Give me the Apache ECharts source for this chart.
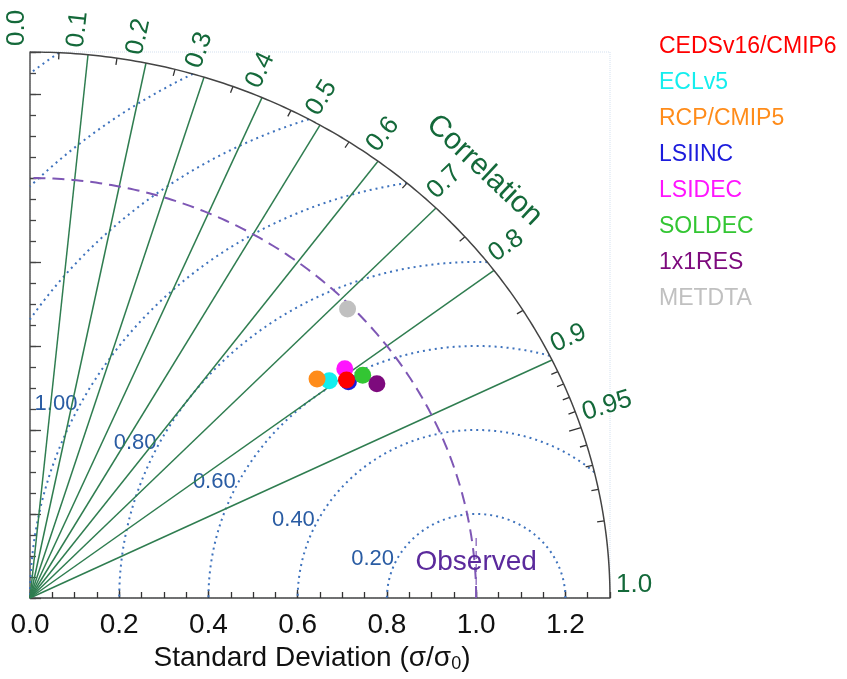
<!DOCTYPE html>
<html>
<head>
<meta charset="utf-8">
<script src="https://cdn.jsdelivr.net/npm/echarts/dist/echarts.min.js"></script>
<style>
  html, body { margin: 0; padding: 0; background: #fff; }
  #chart { width: 847px; height: 679px; }
</style>
</head>
<body>
<div id="chart"></div>
<script>
// 模型名称与颜色
const modelNames = ["CEDSv16/CMIP6", "ECLv5", "RCP/CMIP5", "LSIINC", "LSIDEC", "SOLDEC", "1x1RES", "METDTA"]
const modelColors = ["#ff0000", "#14eeee", "#ff8c1a", "#1c1cdc", "#ff14ff", "#33c633", "#7d0a7d", "#c0c0c0"]
// 标准差 (σ/σ0) 与相关系数
const stdDev = [0.879, 0.847, 0.828, 0.880, 0.892, 0.915, 0.930, 0.990]
const corrValues = [0.807, 0.792, 0.777, 0.811, 0.791, 0.815, 0.836, 0.719]

// 相关系数刻度
const corrLabelTicks = [0.0, 0.1, 0.2, 0.3, 0.4, 0.5, 0.6, 0.7, 0.8, 0.9, 0.95, 1.0]
const corrLineTicks = [0.1, 0.2, 0.3, 0.4, 0.5, 0.6, 0.7, 0.8, 0.9]
const corrMinorTicks = [0.05, 0.15, 0.25, 0.35, 0.45, 0.55, 0.65, 0.75, 0.85,
  0.91, 0.92, 0.93, 0.94, 0.95, 0.96, 0.97, 0.98, 0.99]
// 中心化均方根误差圆弧
const rmsRadii = [0.2, 0.4, 0.6, 0.8, 1.0, 1.2, 1.4, 1.6]
const rmsLabels = [0.2, 0.4, 0.6, 0.8, 1.0]
const observedStd = 1.0
const maxStd = 1.3

const fontFamily = "'Liberation Sans', Arial, Helvetica, sans-serif"
const greenText = "#14693a"

function toXY(std, c) {
  return [std * c, std * Math.sqrt(Math.max(0, 1 - c * c))]
}

// 以原点为中心的四分之一圆
function quarterArc(r) {
  const pts = []
  for (let i = 0; i <= 180; i++) {
    const t = (Math.PI / 2) * i / 180
    pts.push([r * Math.cos(t), r * Math.sin(t)])
  }
  return pts
}

// 以观测点为中心的 RMS 圆弧（裁剪到外圈内）
function rmsArc(r) {
  const xi = (maxStd * maxStd - r * r + observedStd * observedStd) / (2 * observedStd)
  let t1 = 0
  if (xi < observedStd + r) t1 = Math.acos(Math.max(-1, Math.min(1, (xi - observedStd) / r)))
  const t2 = r > observedStd ? Math.acos(-observedStd / r) : Math.PI
  const pts = []
  for (let i = 0; i <= 200; i++) {
    const t = t1 + (t2 - t1) * i / 200
    pts.push([observedStd + r * Math.cos(t), r * Math.sin(t)])
  }
  return pts
}

const chart = echarts.init(document.getElementById("chart"))

const series = []

rmsRadii.forEach(function (r) {
  series.push({
    type: "line",
    data: rmsArc(r),
    showSymbol: false,
    symbol: "none",
    silent: true,
    z: 1,
    lineStyle: { color: "#3f73bd", width: 2, type: [2, 4] }
  })
})

// 观测值圆弧
series.push({
  type: "line",
  data: quarterArc(observedStd),
  showSymbol: false,
  symbol: "none",
  silent: true,
  z: 2,
  lineStyle: { color: "#7e57b5", width: 2, type: [12, 7] }
})
series.push({
  type: "line",
  data: [[observedStd, 0], [observedStd, 0.15]],
  showSymbol: false,
  symbol: "none",
  silent: true,
  z: 2,
  lineStyle: { color: "#7e57b5", width: 1.2, type: [8, 5] }
})

// 相关系数射线
series.push({
  type: "lines",
  coordinateSystem: "cartesian2d",
  silent: true,
  z: 2,
  lineStyle: { color: "#2f7d50", width: 1.5, opacity: 1 },
  data: corrLineTicks.map(function (c) {
    return { coords: [[0, 0], toXY(maxStd, c)] }
  })
})

// 外圈
series.push({
  type: "line",
  data: quarterArc(maxStd),
  showSymbol: false,
  symbol: "none",
  silent: true,
  z: 3,
  lineStyle: { color: "#444", width: 1.5 }
})
series.push({
  type: "lines",
  coordinateSystem: "cartesian2d",
  silent: true,
  z: 3,
  lineStyle: { color: "#333", width: 1.3, opacity: 1 },
  data: corrMinorTicks.map(function (c) {
    const len = Math.abs(c - 0.95) < 1e-6 ? 0.028 : 0.016
    return { coords: [toXY(maxStd, c), toXY(maxStd - len, c)] }
  })
})

// 模型散点
modelNames.forEach(function (name, i) {
  series.push({
    name: name,
    type: "scatter",
    symbolSize: 17,
    z: name === "CEDSv16/CMIP6" ? 12 : 10,
    itemStyle: { color: modelColors[i], opacity: 1 },
    data: [toXY(stdDev[i], corrValues[i])]
  })
})

const option = {
  animation: false,
  backgroundColor: "#fff",
  textStyle: { fontFamily: fontFamily },
  grid: {
    left: 30,
    right: 237,
    top: 52,
    bottom: 81,
    show: true,
    borderColor: "#d3e0ef",
    borderWidth: 1,
    borderType: "dotted"
  },
  legend: {
    orient: "vertical",
    left: 649,
    top: 30,
    itemWidth: 0,
    itemGap: 13,
    selectedMode: false,
    textStyle: { fontSize: 23, fontFamily: fontFamily },
    data: modelNames.map(function (name, i) {
      return { name: name, icon: "none", textStyle: { color: modelColors[i] } }
    })
  },
  xAxis: [
    {
      type: "value",
      min: 0,
      max: maxStd,
      interval: 0.2,
      name: "{t|Standard Deviation (σ/σ}{s|0}{t|)}",
      nameLocation: "middle",
      nameGap: 44,
      nameTextStyle: {
        padding: [0, 16, 0, 0],
        rich: {
          t: { fontSize: 28, color: "#111", fontFamily: fontFamily },
          s: { fontSize: 18, color: "#111", fontFamily: fontFamily, verticalAlign: "bottom", padding: [13, 0, 0, 0] }
        }
      },
      axisLine: { lineStyle: { color: "#444", width: 1.5 } },
      axisTick: { inside: true, length: 8, lineStyle: { color: "#333", width: 1.3 } },
      axisLabel: {
        fontSize: 28,
        color: "#111",
        margin: 13,
        showMaxLabel: false,
        formatter: function (v) { return v.toFixed(1) }
      },
      splitLine: { show: false }
    },
    {
      type: "value",
      min: 0,
      max: maxStd,
      interval: 0.05,
      position: "bottom",
      axisLine: { show: false },
      axisTick: { inside: true, length: 6, lineStyle: { color: "#333", width: 1.3 } },
      axisLabel: { show: false },
      splitLine: { show: false }
    }
  ],
  yAxis: [
    {
      type: "value",
      min: 0,
      max: maxStd,
      interval: 0.2,
      axisLine: { lineStyle: { color: "#555", width: 1.5 } },
      axisTick: { inside: true, length: 11, lineStyle: { color: "#444", width: 1.3 } },
      axisLabel: { show: false },
      splitLine: { show: false }
    },
    {
      type: "value",
      min: 0,
      max: maxStd,
      interval: 0.05,
      position: "left",
      offset: 0,
      axisLine: { show: false },
      axisTick: { inside: true, length: 6, lineStyle: { color: "#444", width: 1.3 } },
      axisLabel: { show: false },
      splitLine: { show: false }
    }
  ],
  series: series
}

chart.setOption(option)

// 文字标注（通过坐标换算放置）
function px(pt) {
  return chart.convertToPixel({ gridIndex: 0 }, pt)
}
const graphics = []
const origin = px([0, 0])

corrLabelTicks.forEach(function (c) {
  const p = px(toXY(maxStd, c))
  let dx = p[0] - origin[0]
  let dy = p[1] - origin[1]
  const len = Math.sqrt(dx * dx + dy * dy)
  dx /= len
  dy /= len
  graphics.push({
    type: "text",
    x: p[0] + dx * 6,
    y: p[1] + dy * 6,
    rotation: Math.atan2(-dy, dx),
    silent: true,
    style: {
      text: Math.abs(c - 0.95) < 1e-6 ? "0.95" : c.toFixed(1),
      fill: greenText,
      font: "26px " + fontFamily,
      textAlign: "left",
      textVerticalAlign: "bottom"
    }
  })
})

// "Correlation" 标题
const titlePt = px(toXY(1.44, 0.707))
const tA = px(toXY(1.44, 0.69))
const tB = px(toXY(1.44, 0.724))
graphics.push({
  type: "text",
  x: titlePt[0],
  y: titlePt[1],
  rotation: Math.atan2(-(tB[1] - tA[1]), tB[0] - tA[0]),
  silent: true,
  style: {
    text: "Correlation",
    fill: greenText,
    font: "30px " + fontFamily,
    textAlign: "center",
    textVerticalAlign: "middle"
  }
})

// RMS 标签
const labelAngle = 152.5 * Math.PI / 180
rmsLabels.forEach(function (r) {
  const p = px([observedStd + r * Math.cos(labelAngle), r * Math.sin(labelAngle)])
  graphics.push({
    type: "text",
    x: p[0] - 3,
    y: p[1],
    silent: true,
    style: {
      text: r.toFixed(2),
      fill: "#2a5ca3",
      font: "22px " + fontFamily,
      textAlign: "right",
      textVerticalAlign: "middle"
    }
  })
})

// Observed 标签
const obsPt = px([observedStd, 0.086])
graphics.push({
  type: "text",
  x: obsPt[0],
  y: obsPt[1],
  silent: true,
  z: 20,
  style: {
    text: "Observed",
    fill: "#5b2a9c",
    font: "28px " + fontFamily,
    textAlign: "center",
    textVerticalAlign: "middle"
  }
})

chart.setOption({ graphic: graphics })

window.addEventListener("resize", function () {
  chart.resize()
})
</script>
</body>
</html>
